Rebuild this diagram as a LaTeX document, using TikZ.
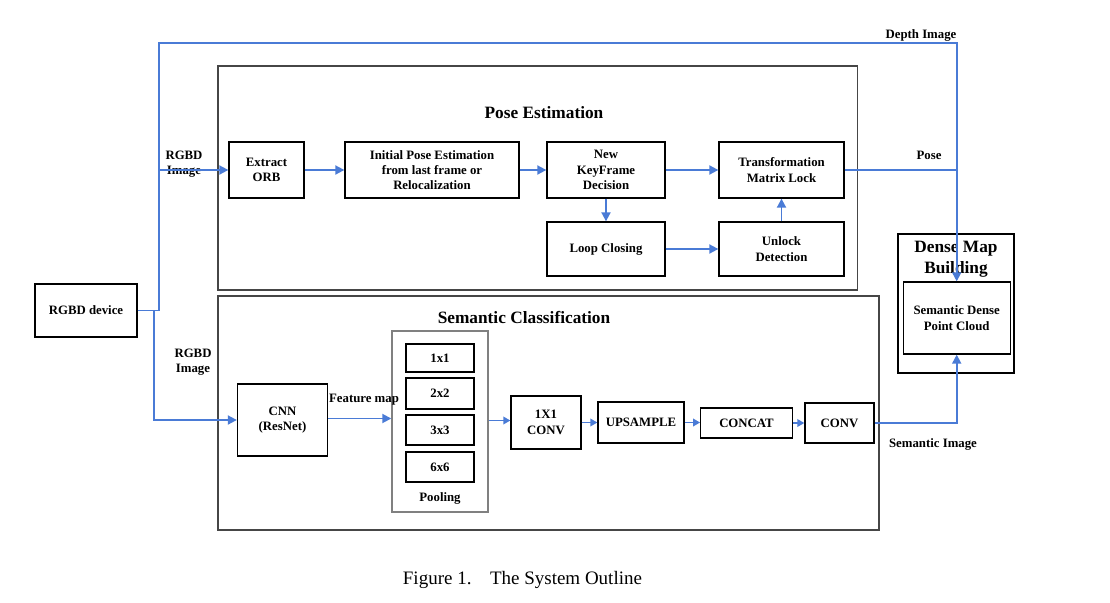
\documentclass[tikz,border=0pt]{standalone}
\usepackage{fontspec}
\setmainfont{Liberation Serif}
\usetikzlibrary{arrows.meta}
\definecolor{lineblue}{RGB}{74,123,214}
\definecolor{framegray}{RGB}{70,70,70}
\definecolor{poolgray}{RGB}{128,128,128}
\tikzset{
  lbl/.style={font=\fontsize{12.8}{15.3}\selectfont\bfseries, align=center, inner sep=0pt},
  box/.style={draw=black, line width=1.3pt, lbl},
  frame/.style={draw=framegray, line width=1.4pt},
  ttl/.style={font=\fontsize{17.3}{20.7}\selectfont\bfseries, align=center, inner sep=0pt},
  arr/.style={draw=lineblue, line width=1.8pt, -{Triangle[length=9pt,width=9pt]}},
  sarr/.style={draw=lineblue, line width=1.8pt, -{Triangle[length=7pt,width=7.5pt]}},
  ln/.style={draw=lineblue, line width=1.8pt},
}
\begin{document}
\begin{tikzpicture}[x=1pt,y=-1pt]
\useasboundingbox (0,0) rectangle (1110,602);
% frames
\draw[frame] (218,66) rectangle (857.7,290);
\draw[frame] (218,296) rectangle (879,530);
\draw[frame,draw=black] (898,234) rectangle (1014,373);
\node[ttl] (tpose) at (544,113) {Pose Estimation};
\node[ttl] (tsem) at (524,317) {Semantic Classification};
\node[ttl] (tdense) at (956,259) {Dense Map\\Building};
% nodes
\node[box, minimum width=102pt, minimum height=53pt] (dev) at (86,310.5) {RGBD device};
\node[box, minimum width=75pt, minimum height=56pt] (orb) at (266.5,170) {Extract\\ORB};
\node[box, minimum width=174pt, minimum height=56pt] (ipe) at (432,170) {Initial Pose Estimation\\from last frame or\\Relocalization};
\node[box, minimum width=118pt, minimum height=56pt] (nkf) at (606,170) {New\\KeyFrame\\Decision};
\node[box, minimum width=125pt, minimum height=56pt] (tml) at (781.5,170) {Transformation\\Matrix Lock};
\node[box, minimum width=118pt, minimum height=54pt] (loop) at (606,249) {Loop Closing};
\node[box, minimum width=125pt, minimum height=54pt] (unl) at (781.5,249) {Unlock\\Detection};
\node[box, minimum width=90pt, minimum height=72pt] (cnn) at (282.5,420) {CNN\\(ResNet)};
\node[draw=poolgray, line width=1.4pt, minimum width=96pt, minimum height=181pt, inner sep=0pt] (pool) at (440,421.5) {};
\node[box, minimum width=68pt, minimum height=28pt] (p1) at (440,358) {1x1};
\node[box, minimum width=68pt, minimum height=31pt] (p2) at (440,393.5) {2x2};
\node[box, minimum width=68pt, minimum height=30pt] (p3) at (440,430) {3x3};
\node[box, minimum width=68pt, minimum height=30pt] (p6) at (440,467) {6x6};
\node[lbl] (plbl) at (440,498) {Pooling};
\node[box, minimum width=70pt, minimum height=53pt] (c11) at (546,422.5) {1X1\\CONV};
\node[box, minimum width=86pt, minimum height=41pt] (ups) at (641,422.5) {UPSAMPLE};
\node[box, minimum width=91.5pt, minimum height=30pt] (cat) at (746.5,423) {CONCAT};
\node[box, minimum width=69pt, minimum height=40pt] (conv) at (839.5,423) {CONV};
\node[box, minimum width=107pt, minimum height=72pt] (spc) at (956.7,318) {Semantic Dense\\Point Cloud};
% labels
\node[lbl] (ldepth) at (921,35) {Depth Image};
\node[lbl] (lpose) at (929,155) {Pose};
\node[lbl] (lrgbd1) at (184,164) {RGBD\\Image};
\node[lbl] (lrgbd2) at (193,362) {RGBD\\Image};
\node[lbl] (lfeat) at (364,400) {Feature map};
\node[lbl] (lsem) at (933,444) {Semantic Image};
\node[font=\fontsize{19}{23}\selectfont, anchor=west, inner sep=0pt] (cap) at (402.7,580) {Figure 1.\hspace{18.5pt}The System Outline};
% connectors
\coordinate (j1) at (158.6,170);
\coordinate (j2) at (956.7,170);
\coordinate (fm) at ([yshift=1.5pt]cnn.east);
\coordinate (pm) at ([yshift=1pt]pool.east);
\draw[arr] (dev.east) -- (158.6,310.5) -- (158.6,42.7) -- (956.7,42.7) -- (spc.north);
\draw[arr] (j1) -- (orb.west);
\draw[arr] (dev.east) -- (153.6,310.5) |- (cnn.west);
\draw[arr] (orb) -- (ipe);
\draw[arr] (ipe) -- (nkf);
\draw[arr] (nkf) -- (tml);
\draw[arr] (nkf) -- (loop);
\draw[arr] (loop) -- (unl);
\draw[arr] (unl) -- (tml);
\draw[ln] (tml.east) -- (j2);
\draw[arr] (fm) -- (fm -| pool.west);
\draw[sarr] (pm) -- (pm -| c11.west);
\draw[sarr] (c11.east) -- (ups.west |- c11.east);
\draw[sarr] (ups.east) -- (cat.west |- ups.east);
\draw[sarr] (cat) -- (conv);
\draw[arr] (conv.east) -| (spc.south);
\end{tikzpicture}
\end{document}
